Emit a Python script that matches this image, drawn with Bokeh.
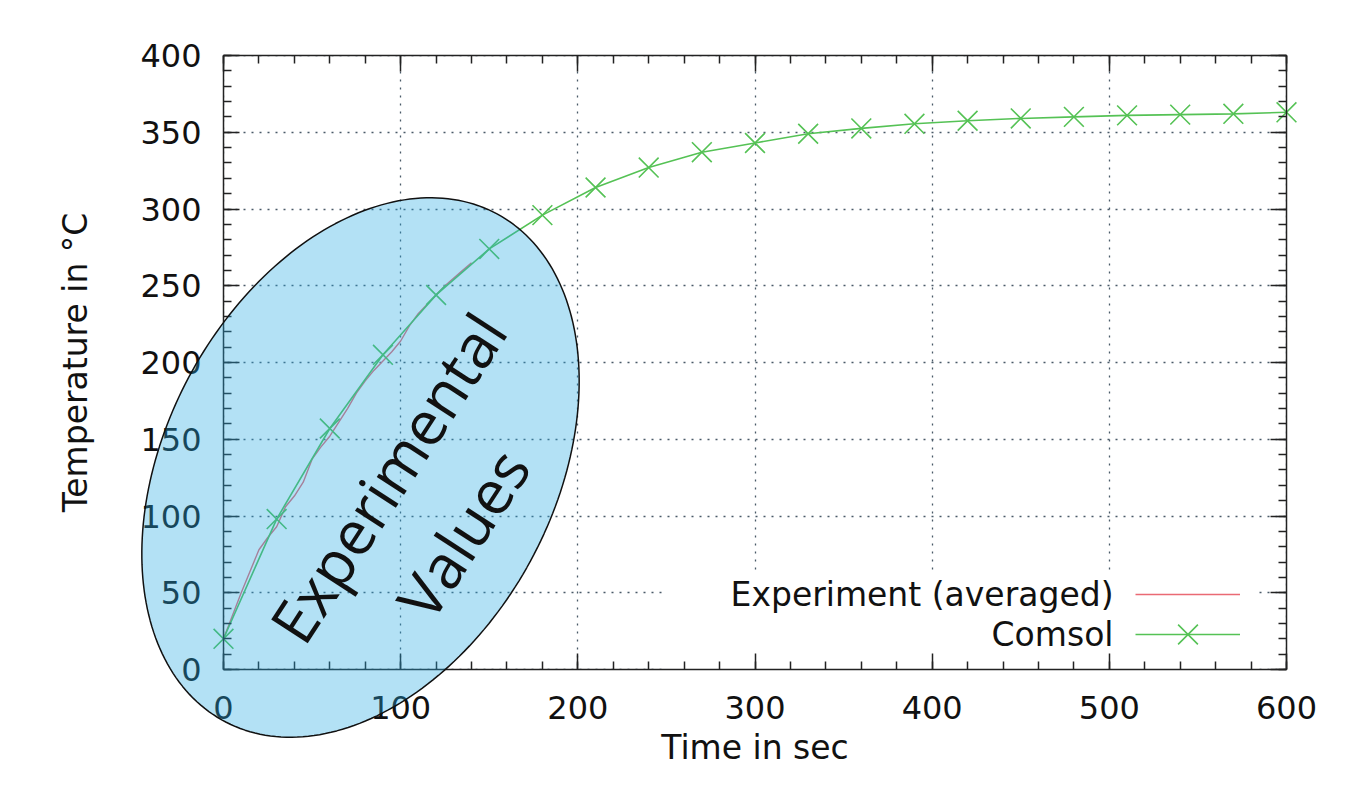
import numpy as np
from bokeh.plotting import figure
from bokeh.models import (Range1d, LinearAxis, SingleIntervalTicker, BoxAnnotation, Grid,
                          PolyAnnotation, Label, Legend, LegendItem)
from bokeh.embed import file_html
from bokeh.resources import INLINE

# ---------------- data ----------------
comsol_t = [0, 30, 60, 90, 120, 150, 180, 210, 240, 270, 300, 330, 360, 390, 420, 450, 480, 510, 540, 570, 600]
comsol_T = [20, 98, 157, 205, 244, 274, 296, 314, 327, 337, 343, 349, 352.5, 355.5, 357.5, 359, 360, 361, 361.5, 362, 363]

exp_t = [0, 5, 10, 15, 20, 25, 30, 35, 40, 45, 50, 55, 60, 65, 70, 75, 80, 85, 90, 95, 100,
         105, 110, 115, 120, 125, 130, 135, 140]
exp_T = [20, 35, 50, 64, 78, 86, 93, 106, 113, 122, 137, 145, 152, 161, 170, 180, 188, 195, 201, 207, 214,
         224, 232, 238, 244, 250, 255, 260, 265]

x_ticks_interval = 100
y_ticks_interval = 50
x_label = "Time in sec"
y_label = "Temperature in °C"
legend_labels = ["Experiment (averaged)", "Comsol"]
note_lines = ["Experimental", "Values"]

# ---------------- layout (canvas pixels) ----------------
W, H = 1348, 769
XMIN, XMAX, YMIN, YMAX = 0, 600, 0, 400
PX_L, PX_R, PX_T, PX_B = 223, 1286, 55, 669      # plot box on the canvas
kx = (PX_R - PX_L) / (XMAX - XMIN)
ky = (PX_B - PX_T) / (YMAX - YMIN)
x0 = XMIN - PX_L / kx
x1 = x0 + W / kx
y1 = YMAX + PX_T / ky
y0 = y1 - H / ky


def dx(px):
    return x0 + px / kx


def dy(py):
    return y1 - py / ky


AX_FONT = "DejaVu Sans"
FS = "32px"
FS_LAB = "33px"
DARK = "#222222"
TXT = "#111111"

p = figure(width=W, height=H, x_range=Range1d(x0, x1), y_range=Range1d(y0, y1),
           output_backend="svg", toolbar_location=None, x_axis_type=None, y_axis_type=None,
           min_border=0, min_border_left=0, min_border_right=0, min_border_top=0, min_border_bottom=0)
p.background_fill_color = "white"
p.border_fill_color = "white"
p.outline_line_alpha = 0

xt = SingleIntervalTicker(interval=x_ticks_interval, num_minor_ticks=5)
yt = SingleIntervalTicker(interval=y_ticks_interval, num_minor_ticks=5)


def make_axis(ticker, loc, bounds, labels=True):
    ax = LinearAxis(ticker=ticker, fixed_location=loc, bounds=bounds)
    ax.axis_line_color = DARK
    ax.axis_line_width = 1.5
    ax.major_tick_in = 16
    ax.major_tick_out = 0
    ax.minor_tick_in = 8
    ax.minor_tick_out = 0
    ax.major_tick_line_color = DARK
    ax.minor_tick_line_color = DARK
    ax.major_tick_line_width = 1.5
    ax.minor_tick_line_width = 1.5
    ax.major_label_text_font = AX_FONT
    ax.major_label_text_font_size = FS if labels else "1px"
    ax.major_label_text_color = TXT
    ax.axis_label_text_font = AX_FONT
    ax.axis_label_text_font_size = FS_LAB
    ax.axis_label_text_font_style = "normal"
    ax.axis_label_text_color = TXT
    if not labels:
        ax.major_label_text_alpha = 0
        ax.major_label_standoff = 0
    return ax


xb = make_axis(xt, YMIN, (XMIN, XMAX))
xb.axis_label = x_label
xb.major_label_standoff = 26
xb.axis_label_standoff = 6
p.add_layout(xb, "below")

yl = make_axis(yt, XMIN, (YMIN, YMAX))
yl.axis_label = y_label
yl.major_label_standoff = 22
yl.axis_label_standoff = 42
p.add_layout(yl, "left")

p.add_layout(make_axis(xt, YMAX, (XMIN, XMAX), labels=False), "above")
p.add_layout(make_axis(yt, XMAX, (YMIN, YMAX), labels=False), "right")

has_cross = "cross_bounds" in Grid.properties()
for dim, tk, bd, cb in [(0, xt, (XMIN, XMAX), (YMIN, YMAX)), (1, yt, (YMIN, YMAX), (XMIN, XMAX))]:
    g = Grid(dimension=dim, ticker=tk, bounds=bd, level="image",
             grid_line_color="#4a5a68", grid_line_width=1.3, grid_line_dash="2 6",
             grid_line_dash_offset=4)
    if has_cross:
        g.cross_bounds = cb
    p.add_layout(g)

# white masks outside the plot box (hide grid overrun) and the key box
FAR = 1000
masks = [dict(left=x0 - FAR, right=XMIN, bottom=y0 - FAR, top=y1 + FAR),
         dict(left=XMAX, right=x1 + FAR, bottom=y0 - FAR, top=y1 + FAR),
         dict(left=x0 - FAR, right=x1 + FAR, bottom=y0 - FAR, top=YMIN),
         dict(left=x0 - FAR, right=x1 + FAR, bottom=YMAX, top=y1 + FAR),
         dict(left=dx(665), right=dx(1255), bottom=YMIN, top=dy(570))]
for m in masks:
    p.add_layout(BoxAnnotation(**m, fill_color="white", fill_alpha=1.0, line_alpha=0, level="underlay"))

# ---------------- series ----------------
EXP_COLOR = "#ea6a74"
COM_COLOR = "#55c255"
exp_r = p.line(exp_t, exp_T, line_color=EXP_COLOR, line_width=1.4)
com_l = p.line(comsol_t, comsol_T, line_color=COM_COLOR, line_width=1.6)
com_s = p.scatter(comsol_t, comsol_T, marker="x", size=28, line_color=COM_COLOR, line_width=1.6)

# key: text right-aligned, sample on the right (gnuplot style)
key_specs = [([exp_r], 594, 40), ([com_l, com_s], 634, 70)]
for rends, cy, gh in key_specs:
    lg = Legend(items=[LegendItem(label=" ", renderers=rends)],
                location=(1135, H - (cy + gh / 2)), glyph_width=105, glyph_height=gh,
                padding=0, margin=0, spacing=0, label_width=0, label_height=gh, label_standoff=0,
                label_text_font_size="1px", background_fill_alpha=0, border_line_alpha=0)
    p.add_layout(lg)

for lab, cy in zip(legend_labels, [594, 634]):
    p.add_layout(Label(x=dx(1113), y=dy(cy), text=lab, text_align="right",
                       text_baseline="middle", text_font=AX_FONT, text_font_size=FS_LAB,
                       text_color=TXT))

# ---------------- ellipse overlay ----------------
cx_px, cy_px = 360, 467
a_px, b_px, theta = 288, 194, np.deg2rad(61.7)
tt = np.linspace(0, 2 * np.pi, 240)
ox = a_px * np.cos(tt) * np.cos(theta) - b_px * np.sin(tt) * np.sin(theta)
oy = a_px * np.cos(tt) * np.sin(theta) + b_px * np.sin(tt) * np.cos(theta)
ell = PolyAnnotation(xs=list(dx(cx_px + ox)), ys=list(dy(cy_px - oy)),
                     fill_color="#26a9e2", fill_alpha=0.35,
                     line_color=TXT, line_width=1.5, line_alpha=1.0, level="overlay")
p.add_layout(ell)

for txt, (px, py) in zip(note_lines, [(387, 477), (462, 533)]):
    p.add_layout(Label(x=dx(px), y=dy(py), text=txt,
                       angle=57, angle_units="deg", text_align="center", text_baseline="middle",
                       text_font="Open Sans", text_font_size="61px", text_color=TXT,
                       level="overlay"))

open("out.html", "w").write(file_html(p, INLINE))
